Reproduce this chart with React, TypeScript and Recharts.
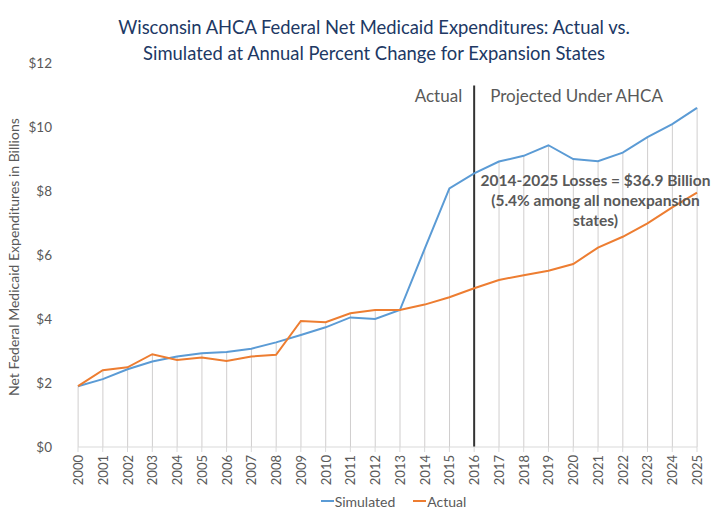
import { ComposedChart, Line, Bar, XAxis, YAxis, ReferenceLine, ReferenceDot, Legend } from "recharts";

const years = [
  2000, 2001, 2002, 2003, 2004, 2005, 2006, 2007, 2008, 2009, 2010, 2011, 2012,
  2013, 2014, 2015, 2016, 2017, 2018, 2019, 2020, 2021, 2022, 2023, 2024, 2025,
];
const simulated = [
  1.9, 2.12, 2.43, 2.67, 2.83, 2.93, 2.97, 3.07, 3.27, 3.5, 3.74, 4.05, 4.0,
  4.28, 6.19, 8.08, 8.55, 8.92, 9.1, 9.43, 9.0, 8.93, 9.2, 9.68, 10.09, 10.6,
];
const actual = [
  1.9, 2.4, 2.49, 2.9, 2.72, 2.8, 2.69, 2.83, 2.88, 3.94, 3.9, 4.18, 4.28,
  4.28, 4.45, 4.68, 4.96, 5.22, 5.37, 5.51, 5.72, 6.23, 6.57, 6.99, 7.49, 7.95,
];
const yTicks = [0, 2, 4, 6, 8, 10, 12];
const noteLines = ["2014-2025 Losses = $36.9 Billion", "(5.4% among all nonexpansion", "states)"];

const FONT = "Lato, 'Open Sans', sans-serif";
const GREY = "#595959";
const BLUE = "#5B9BD5";
const ORANGE = "#ED7D31";

const data = years.map((year, i) => ({
  year,
  simulated: simulated[i],
  actual: actual[i],
  top: Math.max(simulated[i], actual[i]),
}));

function YearTick({ x, y, payload }: { x?: number; y?: number; payload?: { value: number } }) {
  if (x == null || y == null || !payload) return null;
  return (
    <text x={x} y={y} dy={5} transform={`rotate(-90 ${x} ${y})`} textAnchor="end"
      fill={GREY} fontSize={13} fontFamily={FONT}>
      {payload.value}
    </text>
  );
}

function SplitLabel({ viewBox }: { viewBox?: { x: number; y: number } }) {
  if (!viewBox) return null;
  const { x, y } = viewBox;
  return (
    <g fill={GREY} fontSize={17} fontFamily={FONT}>
      <text x={x - 12} y={y + 17} textAnchor="end">Actual</text>
      <text x={x + 16} y={y + 17} textAnchor="start">Projected Under AHCA</text>
    </g>
  );
}

function LossNote({ viewBox }: { viewBox?: { x: number; y: number; width: number } }) {
  if (!viewBox) return null;
  const cx = viewBox.x + (viewBox.width || 0) / 2;
  return (
    <g fill={GREY} fontSize={15.5} fontWeight={700} fontFamily={FONT} textAnchor="middle">
      {noteLines.map((t, i) => (
        <text key={t} x={cx} y={viewBox.y + i * 20}>{t}</text>
      ))}
    </g>
  );
}

function LegendBox() {
  const item = (color: string, name: string) => (
    <span style={{ display: "inline-flex", alignItems: "center", marginRight: 18 }}>
      <span style={{ display: "inline-block", width: 13, height: 2, background: color, marginRight: 1 }} />
      {name}
    </span>
  );
  return (
    <div style={{ height: 22, display: "flex", justifyContent: "center", alignItems: "center",
      fontFamily: FONT, fontSize: 14, color: GREY, paddingLeft: 108 }}>
      {item(BLUE, "Simulated")}
      {item(ORANGE, "Actual")}
    </div>
  );
}

export default function App() {
  return (
    <div style={{ position: "absolute", left: 0, top: 0, width: 712, height: 512, background: "#fff" }}>
      <div style={{ position: "absolute", left: 0, top: 14, width: 748, textAlign: "center",
        fontFamily: FONT, fontSize: 18.4, lineHeight: "26px", color: "#203864" }}>
        Wisconsin AHCA Federal Net Medicaid Expenditures: Actual vs.<br />
        Simulated at Annual Percent Change for Expansion States
      </div>
      <div style={{ position: "absolute", left: 0, top: 0 }}>
        <ComposedChart width={712} height={512} data={data}
          margin={{ top: 63, right: 15, left: 0, bottom: 0 }}>
          <XAxis dataKey="year" type="number" domain={[2000, 2025]} ticks={years} interval={0}
            height={43} tick={<YearTick />} tickSize={5} tickMargin={3}
            axisLine={{ stroke: "#D9D9D9" }} tickLine={{ stroke: "#D9D9D9" }} />
          <YAxis domain={[0, 12]} ticks={yTicks} width={78} axisLine={false} tickLine={false}
            tickSize={6} tickMargin={20} tickFormatter={(v: number) => `$${v}`}
            tick={{ fill: GREY, fontSize: 13.5, fontFamily: FONT }}
            label={{ value: "Net Federal Medicaid Expenditures in Billions", angle: -90,
              position: "insideLeft", offset: 14, dy: 141, fill: GREY, fontSize: 14, fontFamily: FONT }} />
          <Legend verticalAlign="bottom" content={<LegendBox />} />
          <Bar dataKey="top" barSize={1} fill="#D0CECE" legendType="none" isAnimationActive={false} />
          <ReferenceLine segment={[{ x: 2016, y: 0 }, { x: 2016, y: 11.3 }]} stroke="#333" strokeWidth={2}
            label={<SplitLabel />} />
          <Line dataKey="simulated" name="Simulated" stroke={BLUE} strokeWidth={2} dot={false}
            isAnimationActive={false} />
          <Line dataKey="actual" name="Actual" stroke={ORANGE} strokeWidth={2} dot={false}
            isAnimationActive={false} />
          <ReferenceDot x={2020.9} y={8.12} r={1} fill="none" stroke="none" label={<LossNote />} />
        </ComposedChart>
      </div>
    </div>
  );
}
